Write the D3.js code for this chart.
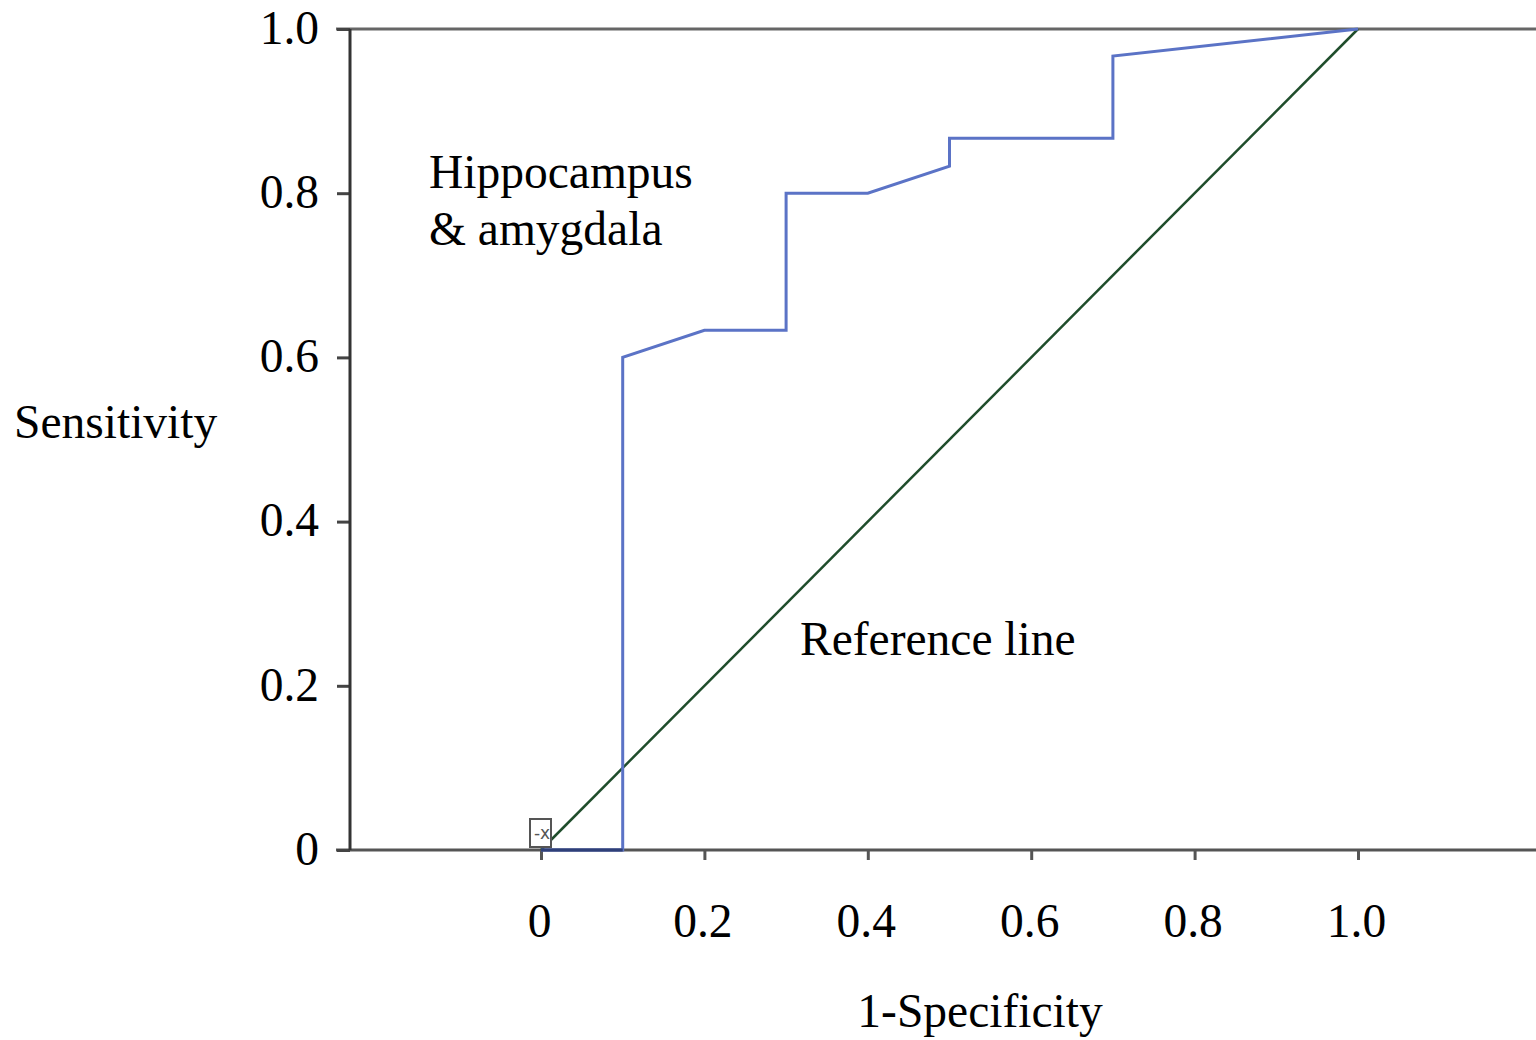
<!DOCTYPE html>
<html>
<head>
<meta charset="utf-8">
<script src="https://cdn.jsdelivr.net/npm/d3@7"></script>
<style>
  html, body { margin: 0; padding: 0; background: #fff; }
  svg text { font-family: "Liberation Serif", "Times New Roman", serif; fill: #000; }
</style>
</head>
<body>
<svg id="chart-svg" width="1536" height="1040"></svg>
<script>
// ROC curve points (1-specificity, sensitivity)
const rocX = [0, 0.1, 0.1, 0.2, 0.3, 0.3, 0.4, 0.5, 0.5, 0.7, 0.7, 1.0];
const rocY = [0, 0, 0.6, 0.633, 0.633, 0.8, 0.8, 0.833, 0.867, 0.867, 0.967, 1.0];
const refX = [0, 1];
const refY = [0, 1];
const xTicks = [0, 0.2, 0.4, 0.6, 0.8, 1.0];
const yTicks = [0, 0.2, 0.4, 0.6, 0.8, 1.0];
const tickLabel = d => d === 0 ? "0" : d.toFixed(1);

const svg = d3.select('#chart-svg');

// Scales
const xScale = d3.scaleLinear().domain([0, 1]).range([541, 1358]);
const yScale = d3.scaleLinear().domain([0, 1]).range([850, 29]);

const x0 = xScale.invert(336);   // left end of the horizontal lines
const x1 = xScale.invert(1536);  // right edge
const yAxisX = xScale.invert(350);

// Top border line
svg.append("line")
    .attr("x1", xScale(x0)).attr("x2", xScale(x1))
    .attr("y1", yScale(1)).attr("y2", yScale(1))
    .attr("stroke", "#666").attr("stroke-width", 3);

// Bottom axis line
svg.append("line")
    .attr("x1", xScale(x0)).attr("x2", xScale(x1))
    .attr("y1", yScale(0)).attr("y2", yScale(0))
    .attr("stroke", "#555").attr("stroke-width", 3);

// X axis ticks + labels
const xAxis = svg.append("g")
    .attr("transform", "translate(0," + yScale(0) + ")")
    .call(d3.axisBottom(xScale).tickValues(xTicks).tickFormat(tickLabel).tickSize(10).tickPadding(43));
xAxis.select(".domain").remove();
xAxis.selectAll(".tick line").attr("stroke", "#555").attr("stroke-width", 3);
xAxis.selectAll(".tick text")
    .style("font-size", "47.5px")
    .attr("dx", -2);

// Y axis
const yAxis = svg.append("g")
    .attr("transform", "translate(" + xScale(yAxisX) + ",0)")
    .call(d3.axisLeft(yScale).tickValues(yTicks).tickFormat(tickLabel).tickSize(13).tickPadding(18));
yAxis.select(".domain").remove();
yAxis.append("line")
    .attr("x1", 0).attr("x2", 0)
    .attr("y1", yScale(1)).attr("y2", yScale(0))
    .attr("stroke", "#333").attr("stroke-width", 3);
yAxis.selectAll(".tick line").attr("stroke", "#444").attr("stroke-width", 3);
yAxis.selectAll(".tick text")
    .style("font-size", "47.5px")
    .attr("dy", "0.3em");

// Reference line
svg.append("path")
    .datum(d3.zip(refX, refY))
    .attr("fill", "none")
    .attr("stroke", "#1f4d2b")
    .attr("stroke-width", 2.5)
    .attr("d", d3.line().x(d => xScale(d[0])).y(d => yScale(d[1])));

// ROC curve
const rocData = d3.zip(rocX, rocY);
svg.append("path")
    .datum(rocData)
    .attr("fill", "none")
    .attr("stroke", "#5b73c6")
    .attr("stroke-width", 3)
    .attr("d", d3.line().x(d => xScale(d[0])).y(d => yScale(d[1])));

// darker segment along the bottom axis
svg.append("path")
    .datum(rocData.slice(0, 2))
    .attr("fill", "none")
    .attr("stroke", "#2f3f78")
    .attr("stroke-width", 3)
    .attr("d", d3.line().x(d => xScale(d[0])).y(d => yScale(d[1])));

// small marker box at origin
const bx = xScale(0), by = yScale(0);
svg.append("rect")
    .attr("x", bx - 11).attr("y", by - 31)
    .attr("width", 21).attr("height", 28)
    .attr("fill", "#fff").attr("stroke", "#555").attr("stroke-width", 2);
svg.append("text")
    .attr("x", bx + 1).attr("y", by - 11)
    .attr("text-anchor", "middle")
    .style("font-family", "DejaVu Sans")
    .style("font-size", "17px")
    .style("fill", "#555")
    .text("-x");

// Labels
const addText = (x, y, t, anchor) => svg.append("text")
    .attr("x", x).attr("y", y)
    .attr("text-anchor", anchor || "start")
    .style("font-size", "47.5px")
    .text(t);

addText(429, 188, "Hippocampus");
addText(429, 245, "& amygdala");
addText(800, 655, "Reference line");
addText(14, 438, "Sensitivity");
addText(980, 1027, "1-Specificity", "middle");
</script>
</body>
</html>
